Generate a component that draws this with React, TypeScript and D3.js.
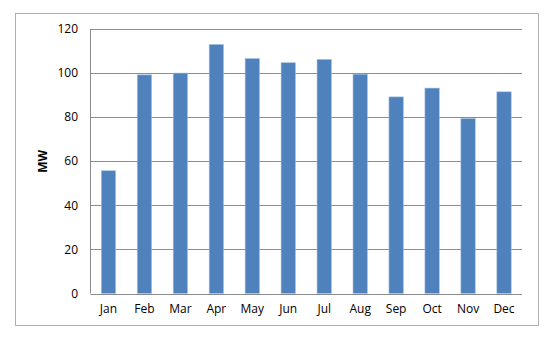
import React from "react";
import * as d3 from "d3";

const months = ["Jan", "Feb", "Mar", "Apr", "May", "Jun", "Jul", "Aug", "Sep", "Oct", "Nov", "Dec"];
const values = [55.7, 99.2, 100, 113, 106.6, 104.7, 106.2, 99.5, 89.2, 93.2, 79.4, 91.5];
const yTicks = [0, 20, 40, 60, 80, 100, 120];
const yLabel = "MW";

export default function App() {
  const W = 549, H = 338;
  const left = 90.5, right = 522, top = 29, bottom = 293.5;
  const x = d3.scaleBand<string>().domain(months).range([left, right]).paddingInner(0.6).paddingOuter(0.3);
  const y = d3.scaleLinear().domain([0, 120]).range([bottom, top]);
  const font = "'Open Sans', 'Liberation Sans', sans-serif";
  return (
    <svg width={W} height={H} style={{ position: "absolute", left: 0, top: 0 }}>
      <rect x={15.5} y={13.5} width={523} height={312} fill="#fff" stroke="#b0b0b0" strokeWidth={1} />
      {yTicks.map((t) => (
        <g key={t}>
          {t > 0 && <line x1={left} x2={right} y1={Math.round(y(t)) + 0.5} y2={Math.round(y(t)) + 0.5} stroke="#8c8c8c" strokeWidth={1} />}
          <text x={78} y={y(t)} dy="0.35em" textAnchor="end" fontFamily={font} fontSize={12} fill="#000">{t}</text>
        </g>
      ))}
      {months.map((m, i) => (
        <rect key={m} x={x(m)} y={y(values[i])} width={x.bandwidth()} height={bottom - y(values[i])} fill="#4F81BD" stroke="#a9c1e0" strokeWidth={0.6} />
      ))}
      <line x1={left} x2={left} y1={top} y2={bottom} stroke="#8c8c8c" strokeWidth={1} />
      <line x1={left} x2={right} y1={Math.round(bottom) + 0.5} y2={Math.round(bottom) + 0.5} stroke="#8c8c8c" strokeWidth={1} />
      {months.map((m) => (
        <text key={m} x={(x(m) as number) + x.bandwidth() / 2} y={309} dy="0.35em" textAnchor="middle" fontFamily={font} fontSize={12} fill="#000">{m}</text>
      ))}
      <text transform={`translate(43,${(top + bottom) / 2}) rotate(-90)`} textAnchor="middle" dy="0.35em" fontFamily={font} fontSize={12} fontWeight="bold" fill="#000">{yLabel}</text>
    </svg>
  );
}
